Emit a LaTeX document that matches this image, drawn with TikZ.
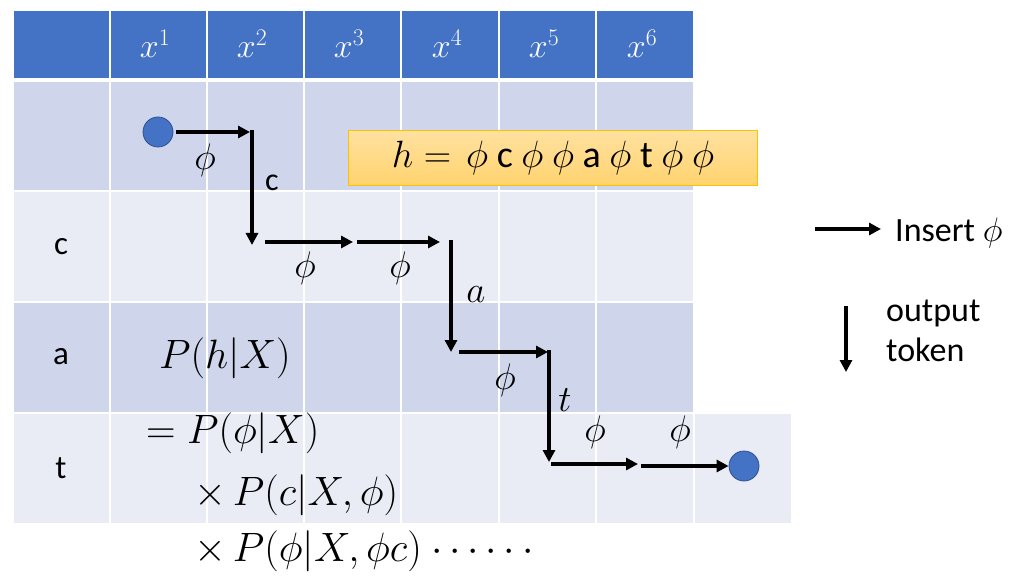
\RequirePackage{fix-cm}
\documentclass[tikz,border=0pt]{standalone}
\usepackage{fontspec}
\setmainfont{Carlito}
\usetikzlibrary{arrows.meta}
\definecolor{hdr}{HTML}{4472C4}
\definecolor{rowA}{HTML}{CFD5EA}
\definecolor{rowB}{HTML}{E9EBF5}
\definecolor{dotfill}{HTML}{4472C4}
\definecolor{dotdraw}{HTML}{2F528F}
\definecolor{boxtop}{HTML}{FFE1A0}
\definecolor{boxbot}{HTML}{FFD36E}
\definecolor{boxdraw}{HTML}{FFC000}
\tikzset{
  flow/.style={line width=3.6pt, -{Triangle[length=12pt,width=12pt]}},
  dot/.style={circle, fill=dotfill, draw=dotdraw, line width=0.8pt, minimum size=30pt, inner sep=0pt},
  lbl/.style={inner sep=0pt, font=\fontsize{37}{44}\selectfont},
  big/.style={inner sep=0pt, font=\fontsize{33}{40}\selectfont},
  hdrtxt/.style={inner sep=0pt, text=white, font=\fontsize{34}{40}\selectfont},
  frm/.style={inner sep=0pt, anchor=west, font=\fontsize{41}{48}\selectfont},
}
\begin{document}
\begin{tikzpicture}[x=1pt,y=-1pt]
\useasboundingbox (0,0) rectangle (1025,585);
% header
\foreach \a/\b in {13/110,110/207,207/304,304/401,401/499,499/596,596/694}
  \fill[hdr] (\a+1,11) rectangle (\b-1,78);
% body rows
\foreach \a/\b in {13/110,110/207,207/304,304/401,401/499,499/596,596/694}{
  \fill[rowA] (\a+1,82) rectangle (\b-1,190);
  \fill[rowB] (\a+1,192) rectangle (\b-1,301);
  \fill[rowA] (\a+1,303) rectangle (\b-1,412);
}
\foreach \a/\b in {13/110,110/207,207/304,304/401,401/499,499/596,596/694,694/792}
  \fill[rowB] (\a+1,414) rectangle (\b-1,523);
% header labels
\node[hdrtxt] (h1) at (155,44) {$x^1$};
\node[hdrtxt] (h2) at (252,44) {$x^2$};
\node[hdrtxt] (h3) at (349,44) {$x^3$};
\node[hdrtxt] (h4) at (447,44) {$x^4$};
\node[hdrtxt] (h5) at (544,44) {$x^5$};
\node[hdrtxt] (h6) at (642,44) {$x^6$};
% row labels
\node[big] (rc) at (61,247) {c};
\node[big] (ra) at (61,357) {a};
\node[big] (rt) at (61,468) {t};
% h box
\node[inner sep=0pt, minimum width=409pt, minimum height=55pt, top color=boxtop, bottom color=boxbot, draw=boxdraw, line width=0.8pt,
  font=\fontsize{38}{44}\selectfont] (hbox) at (553,158)
  {\raisebox{0pt}{$h=$\ \,$\phi$ c $\phi$ $\phi$ a $\phi$ t $\phi$ $\phi$}};
% dots
\node[dot] (start) at (158,132) {};
\node[dot] (end) at (744,466) {};
% path coordinates
\coordinate (p1) at (250,132);
\coordinate (q1) at (252,130);
\coordinate (q2) at (252,245);
\coordinate (r1) at (265,242);
\coordinate (r2) at (353,242);
\coordinate (s1) at (357,242);
\coordinate (s2) at (440,242);
\coordinate (t1) at (451,240);
\coordinate (t2) at (451,352);
\coordinate (u1) at (459,352);
\coordinate (u2) at (548,352);
\coordinate (v1) at (549,350);
\coordinate (v2) at (549,462);
\coordinate (w1) at (551,464);
\coordinate (w2) at (638,464);
\coordinate (z1) at (641,466);
\draw[flow] (start.east) ++(3pt,0) -- (p1);
\draw[flow] (q1) -- (q2);
\draw[flow] (r1) -- (r2);
\draw[flow] (s1) -- (s2);
\draw[flow] (t1) -- (t2);
\draw[flow] (u1) -- (u2);
\draw[flow] (v1) -- (v2);
\draw[flow] (w1) -- (w2);
\draw[flow] (z1) -- (end.west);
% arrow labels
\node[lbl] (l1) at (205,160) {$\phi$};
\node[big,font=\fontsize{32}{38}\selectfont] (l2) at (272,183) {c};
\node[lbl] (l3) at (305,268) {$\phi$};
\node[lbl] (l4) at (400,268) {$\phi$};
\node[lbl] (l5) at (476,295) {$a$};
\node[lbl] (l6) at (505,380) {$\phi$};
\node[lbl] (l7) at (565,400) {$t$};
\node[lbl] (l8) at (595,432) {$\phi$};
\node[lbl] (l9) at (680,432) {$\phi$};
% formula
\node[frm] (f1) at (159,358) {$P(h|X)$};
\node[frm] (f2) at (146,433) {$=P(\phi|X)$};
\node[frm] (f3) at (194,495) {$\times\,P(c|X,\phi)$};
\node[frm] (f4) at (194,551) {$\times\,P(\phi|X,\phi c)$ $\cdots\cdots$};
% legend
\coordinate (g1) at (815,229);
\coordinate (g2) at (881,229);
\draw[flow] (g1) -- (g2);
\node[inner sep=0pt, anchor=west, font=\fontsize{34}{40}\selectfont] (gi) at (895,233) {Insert $\phi$};
\coordinate (k1) at (846,306);
\coordinate (k2) at (846,372);
\draw[flow] (k1) -- (k2);
\node[inner sep=0pt, anchor=north west, align=left, font=\fontsize{34}{40}\selectfont] (gk) at (886,300) {output\\token};
\end{tikzpicture}
\end{document}
